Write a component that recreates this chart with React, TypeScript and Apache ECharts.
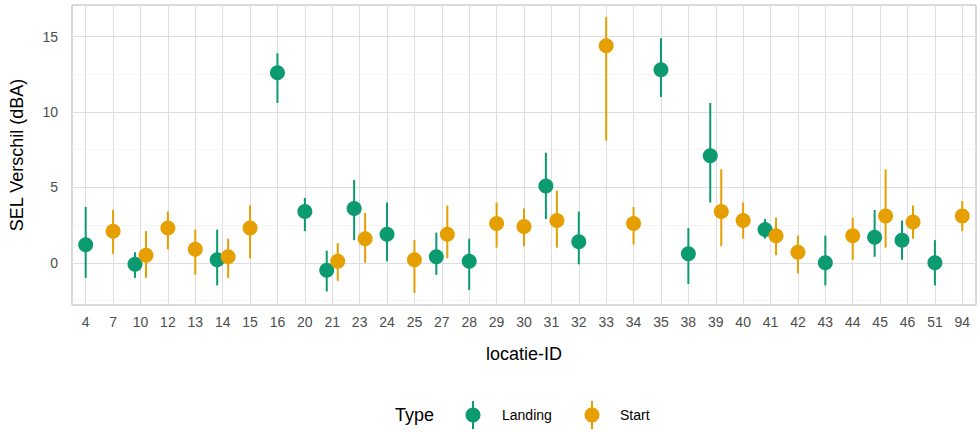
import React, { useEffect, useRef } from "react";
import * as echarts from "echarts";

const categories = ["4","7","10","12","13","14","15","16","20","21","23","24","25","27","28","29","30","31","32","33","34","35","38","39","40","41","42","43","44","45","46","51","94"];
// [category, mean, low, high]
const landing: [string, number, number, number][] = [
  ["4",1.2,-1,3.7],["10",-0.1,-1,0.7],["14",0.2,-1.5,2.2],["16",12.6,10.6,13.9],["20",3.4,2.1,4.3],
  ["21",-0.5,-1.9,0.8],["23",3.6,1.5,5.5],["24",1.9,0.1,4],["27",0.4,-0.8,2],["28",0.1,-1.8,1.6],
  ["31",5.1,2.9,7.3],["32",1.4,-0.1,3.4],["35",12.8,11,14.9],["38",0.6,-1.4,2.3],["39",7.1,4,10.6],
  ["41",2.2,1.6,2.9],["43",0,-1.5,1.8],["45",1.7,0.4,3.5],["46",1.5,0.2,2.8],["51",0,-1.5,1.5]
];
const start: [string, number, number, number][] = [
  ["7",2.1,0.6,3.5],["10",0.5,-1,2.1],["12",2.3,0.9,3.4],["13",0.9,-0.8,2.2],["14",0.4,-1,1.6],
  ["15",2.3,0.3,3.8],["21",0.1,-1.2,1.3],["23",1.6,0,3.3],["25",0.2,-2,1.5],["27",1.9,0.3,3.8],
  ["29",2.6,1,4],["30",2.4,1.1,3.6],["31",2.8,1,4.8],["33",14.4,8.1,16.3],["34",2.6,1.2,3.7],
  ["39",3.4,1.1,6.2],["40",2.8,1.6,4],["41",1.8,0.5,3],["42",0.7,-0.7,1.8],["44",1.8,0.2,3],
  ["45",3.1,1,6.2],["46",2.7,1.6,3.8],["94",3.1,2.1,4.1]
];
const yTicks = [0, 5, 10, 15];
const yMinor = [-2.5, 2.5, 7.5, 12.5];

const GREEN = "#0c9a70";
const ORANGE = "#e69f00";

function mkSeries(name: string, data: any[], color: string, dx: number) {
  const catsWithBoth = new Set(landing.map(d => d[0]).filter(c => start.some(s => s[0] === c)));
  return {
    name,
    type: "custom",
    z: 5,
    data: data.map(d => [categories.indexOf(d[0]), d[1], d[2], d[3], catsWithBoth.has(d[0]) ? 1 : 0]),
    renderItem: (params: any, api: any) => {
      const off = api.value(4) ? dx : 0;
      const p = api.coord([api.value(0), api.value(1)]);
      const lo = api.coord([api.value(0), api.value(2)]);
      const hi = api.coord([api.value(0), api.value(3)]);
      return {
        type: "group",
        children: [
          { type: "line", shape: { x1: p[0] + off, y1: lo[1], x2: p[0] + off, y2: hi[1] }, style: { stroke: color, lineWidth: 2 } },
          { type: "circle", shape: { cx: p[0] + off, cy: p[1], r: 7.5 }, style: { fill: color } }
        ]
      };
    }
  };
}

export default function App() {
  const ref = useRef<HTMLDivElement>(null);
  useEffect(() => {
    document.body.style.margin = "0";
    const chart = echarts.init(ref.current!, null, { renderer: "svg" });
    const gridLines = [
      ...yMinor.map(v => ({ yAxis: v, lineStyle: { color: "#eeeeee", width: 0.6, type: "solid" } })),
      ...yTicks.map(v => ({ yAxis: v, lineStyle: { color: "#dedede", width: 1, type: "solid" } })),
      ...categories.map(c => ({ xAxis: c, lineStyle: { color: "#dedede", width: 1, type: "solid" } }))
    ];
    const font = "Liberation Sans, Arial, sans-serif";
    const legendY = 415;
    chart.setOption({
      animation: false,
      grid: { left: 67, right: 1, top: 5, bottom: 127, show: true, borderColor: "#b3b3b3", borderWidth: 1 },
      xAxis: {
        type: "category", data: categories,
        axisLine: { show: false }, axisTick: { show: true, alignWithLabel: true, lineStyle: { color: "#333" }, length: 4 },
        axisLabel: { color: "#4d4d4d", fontSize: 14, fontFamily: font, margin: 10 },
        splitLine: { show: false },
        name: "locatie-ID", nameLocation: "middle", nameGap: 40,
        nameTextStyle: { fontSize: 18, color: "#000", fontFamily: font }
      },
      yAxis: {
        type: "value", min: -2.8, max: 17.1,
        axisLine: { show: false }, axisTick: { show: false }, splitLine: { show: false },
        axisLabel: { show: false },
        name: "SEL Verschil (dBA)", nameLocation: "middle", nameGap: 46,
        nameTextStyle: { fontSize: 18, color: "#000", fontFamily: font }
      },
      series: [
        {
          type: "line", data: [], silent: true,
          markLine: { silent: true, symbol: "none", label: { show: false }, data: gridLines, animation: false }
        },
        mkSeries("Landing", landing, GREEN, -5.5),
        mkSeries("Start", start, ORANGE, 5.5)
      ],
      graphic: [
        ...yTicks.map(v => ({
          type: "text", x: 58, y: 5 + (17.1 - v) / 19.9 * 300, style: { text: String(v), align: "right", verticalAlign: "middle", fill: "#4d4d4d", fontSize: 14, fontFamily: font }
        })),
        { type: "text", x: 395, y: legendY, style: { text: "Type", fill: "#000", fontSize: 18, fontFamily: font, verticalAlign: "middle" } },
        { type: "line", shape: { x1: 473, y1: legendY - 14, x2: 473, y2: legendY + 14 }, style: { stroke: GREEN, lineWidth: 2 } },
        { type: "circle", shape: { cx: 473, cy: legendY, r: 7.5 }, style: { fill: GREEN } },
        { type: "text", x: 502, y: legendY, style: { text: "Landing", fill: "#000", fontSize: 14, fontFamily: font, verticalAlign: "middle" } },
        { type: "line", shape: { x1: 592, y1: legendY - 14, x2: 592, y2: legendY + 14 }, style: { stroke: ORANGE, lineWidth: 2 } },
        { type: "circle", shape: { cx: 592, cy: legendY, r: 7.5 }, style: { fill: ORANGE } },
        { type: "text", x: 620, y: legendY, style: { text: "Start", fill: "#000", fontSize: 14, fontFamily: font, verticalAlign: "middle" } }
      ]
    });
    return () => chart.dispose();
  }, []);
  return <div ref={ref} style={{ width: 977, height: 432 }} />;
}
